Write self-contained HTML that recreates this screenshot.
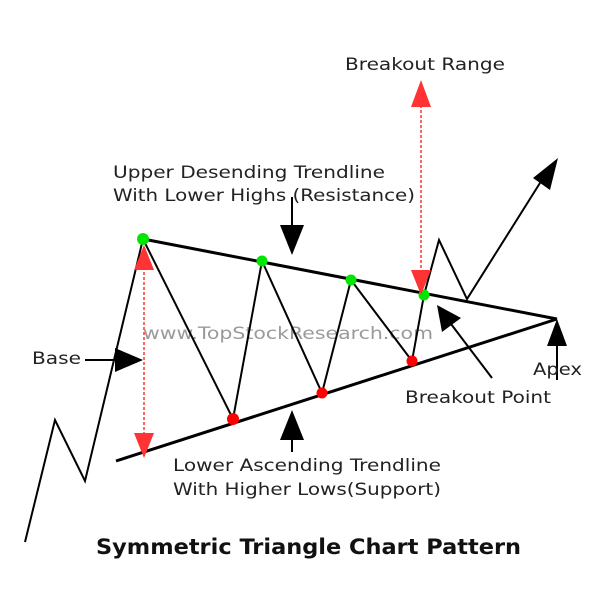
<!DOCTYPE html>
<html><head><meta charset="utf-8"><style>html,body{margin:0;padding:0;background:#fff}svg{display:block}</style></head>
<body>
<svg width="600" height="600" xmlns="http://www.w3.org/2000/svg" font-family="DejaVu Sans, Liberation Sans, sans-serif">
<rect width="600" height="600" fill="#fff"/>
<text x="143" y="339" font-size="17" fill="#9a9a9a" textLength="290" lengthAdjust="spacingAndGlyphs">www.TopStockResearch.com</text>
<g stroke="#000" stroke-width="3" fill="none">
<line x1="143" y1="239" x2="557" y2="319"/>
<line x1="116" y1="461" x2="557" y2="319"/>
</g>
<polyline points="25,542 55,420 85,481 143,239 233,419 262,261 322,393 351,280 412,361 424,295 439,240 467,299 545,175" fill="none" stroke="#000" stroke-width="2"/>
<polygon points="558,158 533,178 550,190" fill="#000"/>
<g fill="#00e600"><circle cx="143" cy="239" r="6"/><circle cx="262" cy="261" r="5.5"/><circle cx="351" cy="280" r="5.5"/><circle cx="424" cy="295" r="5.5"/></g>
<g fill="#f00"><circle cx="233" cy="419" r="6"/><circle cx="322" cy="393" r="5.5"/><circle cx="412" cy="361" r="5.5"/></g>
<g stroke="#f33" stroke-width="1.5" stroke-dasharray="3,2">
<line x1="144" y1="262" x2="144" y2="438"/>
<line x1="421" y1="100" x2="421" y2="275"/>
</g>
<g fill="#f33">
<polygon points="144,245 134,270 154,270"/><polygon points="144,458 134,433 154,433"/>
<polygon points="421,80 411,107 431,107"/><polygon points="421,295 411,270 431,270"/>
</g>
<g stroke="#000" stroke-width="2">
<line x1="85" y1="360" x2="118" y2="360"/>
<line x1="292" y1="197" x2="292" y2="230"/>
<line x1="292" y1="435" x2="292" y2="452"/>
<line x1="492" y1="378" x2="448" y2="320"/>
<line x1="557" y1="340" x2="557" y2="380"/>
</g>
<g fill="#000">
<polygon points="143,360 115,348 115,372"/>
<polygon points="292,255 280,225 304,225"/>
<polygon points="292,410 280,440 304,440"/>
<polygon points="437,305 442,332 461,318"/>
<polygon points="557,319 547,346 567,346"/>
</g>
<g font-size="17" fill="#222">
<text x="345" y="70" textLength="160" lengthAdjust="spacingAndGlyphs">Breakout Range</text>
<text x="113" y="178" textLength="272" lengthAdjust="spacingAndGlyphs">Upper Desending Trendline</text>
<text x="113" y="201" textLength="302" lengthAdjust="spacingAndGlyphs">With Lower Highs (Resistance)</text>
<text x="32" y="364" textLength="49" lengthAdjust="spacingAndGlyphs">Base</text>
<text x="173" y="471" textLength="268" lengthAdjust="spacingAndGlyphs">Lower Ascending Trendline</text>
<text x="173" y="495" textLength="268" lengthAdjust="spacingAndGlyphs">With Higher Lows(Support)</text>
<text x="405" y="403" textLength="146" lengthAdjust="spacingAndGlyphs">Breakout Point</text>
<text x="533" y="375" textLength="49" lengthAdjust="spacingAndGlyphs">Apex</text>
</g>
<text x="96" y="554" font-size="21" font-weight="bold" fill="#111" textLength="425" lengthAdjust="spacingAndGlyphs">Symmetric Triangle Chart Pattern</text>
</svg>
</body></html>
